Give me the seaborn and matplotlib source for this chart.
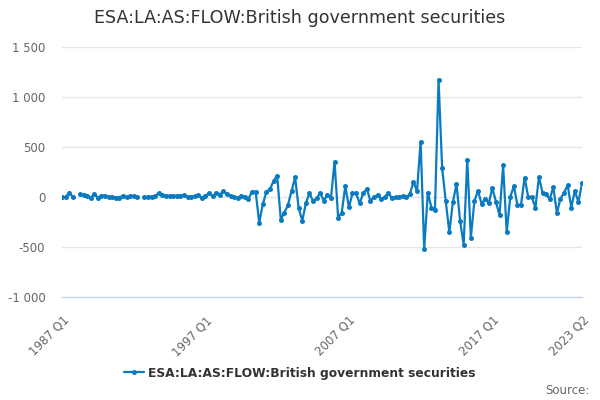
import numpy as np
import pandas as pd
import matplotlib
matplotlib.use("Agg")
import matplotlib.pyplot as plt
from matplotlib.lines import Line2D
import seaborn as sns

# quarterly values, 1987 Q1 .. 2023 Q2 (nan = missing quarter)
values = [
    -3, -3, 45, 0, np.nan, 30, 20, 13, -13, 35,
    -7, 15, 15, 0, 0, -7, -7, 15, 0, 12,
    10, 0, np.nan, 5, 0, 5, 10, 40, 20, 15,
    12, 12, 12, 15, 18, 5, 0, 10, 22, -10,
    13, 37, 10, 45, 25, 60, 30, 15, 0, -13,
    13, 0, -17, 55, 52, -257, -70, 50, 80, 160,
    215, -225, -157, -80, 60, 197, -113, -237, -63, 37,
    -40, -13, 43, -37, 23, -13, 355, -207, -157, 110,
    -103, 37, 37, -63, 37, 83, -40, 0, 20, -20,
    0, 43, -13, 0, -3, 10, -3, 30, 150, 60,
    555, -520, 45, -105, -128, 1175, 290, -40, -350, -53,
    130, -237, -478, 370, -408, -40, 63, -70, -17, -63,
    90, -47, -183, 318, -350, 0, 110, -83, -77, 195,
    0, -3, -105, 200, 43, 30, -23, 100, -160, -17,
    43, 120, -105, 60, -50, 137,
]
quarters = [f"{1987 + i // 4} Q{i % 4 + 1}" for i in range(len(values))]
label_quarters = ["1987 Q1", "1997 Q1", "2007 Q1", "2017 Q1", "2023 Q2"]
series_name = "ESA:LA:AS:FLOW:British government securities"

df = pd.DataFrame({"quarter": quarters, "value": values})
df["pos"] = np.arange(len(df))
# split into segments so the missing quarters stay as gaps
df["segment"] = df["value"].isna().cumsum()
df = df.dropna()

line_color = "#0a7bc1"

sns.set_style("white")
plt.rcParams["font.family"] = ["DejaVu Sans"]

fig = plt.figure(figsize=(6, 4), dpi=100)
ax = fig.add_axes([62 / 600, 1 - 297 / 400, 520 / 600, 250 / 400])

sns.lineplot(data=df, x="pos", y="value", units="segment", estimator=None,
             color=line_color, linewidth=1.6, marker="o", markersize=3.6,
             markeredgewidth=0, ax=ax, legend=False)

ax.set_xlim(0, len(values) - 1)
ax.set_ylim(-1000, 1500)
yt = [-1000, -500, 0, 500, 1000, 1500]
ax.set_yticks(yt)
ax.set_yticklabels([f"{v:,}".replace(",", " ") for v in yt],
                   color="#666666", fontsize=8.5)
ax.yaxis.grid(True, color="#e6e6e6", linewidth=1)
ax.tick_params(axis="y", length=0, pad=12)

# labelled ticks as major, plain tick marks every 10 quarters as minor
ax.set_xticks([quarters.index(q) for q in label_quarters])
ax.set_xticklabels(label_quarters, rotation=45, ha="right",
                   rotation_mode="anchor", color="#666666", fontsize=8.5)
ax.set_xticks(list(range(0, len(values), 10)), minor=True)
ax.tick_params(axis="x", which="both", length=9, color="#ccd6eb", width=1)
ax.tick_params(axis="x", which="major", pad=3)
ax.set_xlabel("")
ax.set_ylabel("")

for s in ["top", "right", "left"]:
    ax.spines[s].set_visible(False)
ax.spines["bottom"].set_color("#ccd6eb")
ax.spines["bottom"].set_linewidth(1)

fig.text(0.5, 1 - 18 / 400, series_name, ha="center", va="center",
         fontsize=12.6, color="#333333")

handle = Line2D([0], [0], color=line_color, linewidth=1.6, marker="o",
                markersize=3.6, markeredgewidth=0)
fig.legend([handle], [series_name], loc="center", bbox_to_anchor=(0.5, 1 - 373 / 400),
           frameon=False, prop={"weight": "bold", "size": 8.8},
           labelcolor="#333333", handlelength=1.6, handletextpad=0.4)

fig.text(590 / 600, 1 - 391 / 400, "Source:", ha="right", va="center",
         fontsize=8.5, color="#666666")

fig.savefig("out.png", dpi=100)
